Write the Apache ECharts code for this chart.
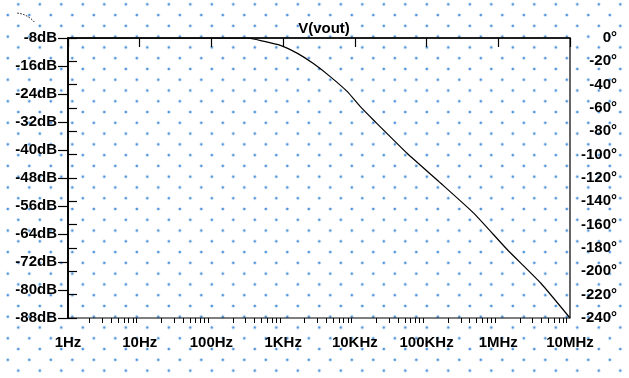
<!DOCTYPE html>
<html>
<head>
<meta charset="utf-8">
<script src="https://cdn.jsdelivr.net/npm/echarts@6/dist/echarts.min.js"></script>
<style>
  html, body { margin: 0; padding: 0; background: #fff; }
  #chart {
    width: 629px;
    height: 378px;
    /* LTspice style dotted background, staggered lattice */
    background-image:
      radial-gradient(circle, #4f93d8 0, #4f93d8 0.7px, rgba(110,165,225,0.45) 1.3px, rgba(255,255,255,0) 2px),
      radial-gradient(circle, #4f93d8 0, #4f93d8 0.7px, rgba(110,165,225,0.45) 1.3px, rgba(255,255,255,0) 2px);
    background-size: 21.5px 21.56px, 21.5px 21.56px;
    background-position: 7.55px -6.48px, 18.55px 4.3px;
  }
</style>
</head>
<body>
<div id="chart"></div>
<script>
// frequency points (Hz) and magnitude (dB)
const freqs = [1, 316, 527, 915, 1585, 2640, 4580, 7920, 12000, 18300, 53900, 158000, 458000, 1340000, 3900000, 10000000];
const magDb = [-8, -8, -8.9, -10.1, -12.4, -15.3, -19.1, -23.4, -27.7, -31.5, -41.0, -49.5, -58.1, -68.5, -78.0, -88];

// x axis labels, one per decade
const decadeLabels = ['1Hz', '10Hz', '100Hz', '1KHz', '10KHz', '100KHz', '1MHz', '10MHz'];
const minorSteps = [2, 3, 4, 5, 6, 7, 8, 9];

const lineData = freqs.map((f, i) => [Math.log10(f), magDb[i]]);

const minorTicks = [];
for (let d = 0; d < decadeLabels.length - 1; d++) {
  minorSteps.forEach((m) => minorTicks.push(d + Math.log10(m)));
}

const labelFont = {
  color: '#000',
  fontFamily: 'Liberation Sans, Arial, sans-serif',
  fontWeight: 'bold',
  fontSize: 15
};

const myChart = echarts.init(document.getElementById('chart'));
myChart.setOption({
  animation: false,
  title: {
    text: 'V(vout)',
    left: 319,
    top: 16,
    textAlign: 'center',
    textStyle: Object.assign({}, labelFont, { fontSize: 15 })
  },
  grid: {
    left: 68,
    right: 59,
    top: 38,
    bottom: 60,
    show: true,
    borderColor: '#000',
    borderWidth: 1.2,
    backgroundColor: 'transparent'
  },
  xAxis: [
    {
      type: 'value',
      min: 0,
      max: 7,
      interval: 1,
      axisLine: { lineStyle: { color: '#000', width: 1.5 } },
      axisTick: { length: 9, lineStyle: { color: '#000', width: 1.2 } },
      axisLabel: Object.assign({}, labelFont, {
        margin: 17,
        formatter: (v) => decadeLabels[Math.round(v)]
      }),
      splitLine: { show: false }
    },
    {
      // only used for the log spaced minor ticks
      type: 'value',
      position: 'bottom',
      min: 0,
      max: 7,
      axisLine: { show: false },
      axisTick: {
        length: 5,
        customValues: minorTicks,
        lineStyle: { color: '#000', width: 1 }
      },
      axisLabel: { show: false },
      splitLine: { show: false }
    }
  ],
  yAxis: [
    {
      type: 'value',
      min: -88,
      max: -8,
      interval: 8,
      axisLine: { show: true, lineStyle: { color: '#000', width: 1.5 } },
      axisTick: { show: true, length: 10, lineStyle: { color: '#000', width: 1.2 } },
      axisLabel: Object.assign({}, labelFont, {
        margin: 11,
        formatter: '{value}dB'
      }),
      splitLine: { show: false }
    },
    {
      type: 'value',
      position: 'right',
      min: -240,
      max: 0,
      interval: 20,
      axisLine: { show: true, lineStyle: { color: '#000', width: 1.5 } },
      axisTick: { show: true, length: 9, lineStyle: { color: '#000', width: 1.2 } },
      axisLabel: Object.assign({}, labelFont, {
        margin: 47,
        align: 'right',
        formatter: '{value}°'
      }),
      splitLine: { show: false }
    }
  ],
  graphic: [
    {
      // little dashed arc in the corner
      type: 'arc',
      shape: { cx: 15, cy: 38, r: 25, startAngle: -1.48, endAngle: -0.64 },
      style: { stroke: '#000', lineWidth: 1, lineDash: [1.5, 1.5], fill: null }
    }
  ],
  series: [
    {
      name: 'V(vout)',
      type: 'line',
      data: lineData,
      smooth: 0.15,
      symbol: 'none',
      clip: true,
      lineStyle: { color: '#000', width: 1.2 }
    }
  ]
});

window.addEventListener('resize', () => { myChart.resize(); });
</script>
</body>
</html>
